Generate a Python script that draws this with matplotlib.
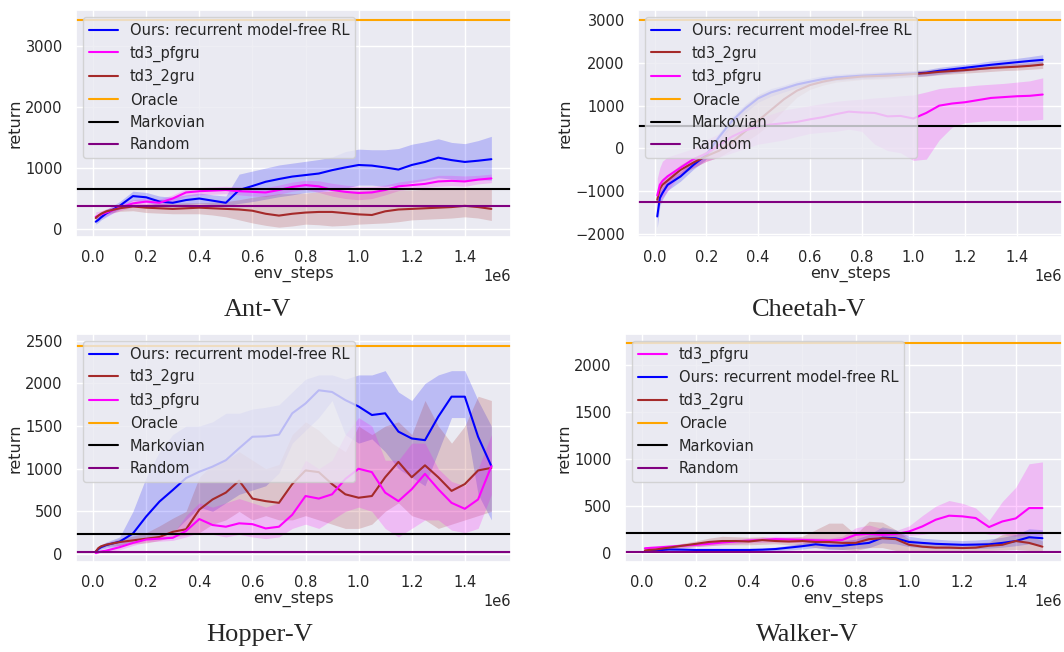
"""Learning curves on the four velocity-only locomotion tasks (2x2 grid)."""

import matplotlib

matplotlib.use("Agg")

import matplotlib.pyplot as plt
import numpy as np
import seaborn as sns
from matplotlib.ticker import MultipleLocator

# shared x grid, in millions of env steps
STEPS = [0.01, 0.02, 0.03, 0.05, 0.10, 0.15, 0.20, 0.25, 0.30, 0.35, 0.40,
         0.45, 0.50, 0.55, 0.60, 0.65, 0.70, 0.75, 0.80, 0.85, 0.90, 0.95,
         1.00, 1.05, 1.10, 1.15, 1.20, 1.25, 1.30, 1.35, 1.40, 1.45, 1.50]

# ---- Ant-V ----
ant_ours = [120, 150, 190, 257, 380, 540, 520, 450, 430, 475, 500, 465, 430, 640, 705, 775, 820,
            860, 885, 910, 965, 1010, 1050, 1040, 1010, 975, 1050, 1100, 1170, 1130, 1100, 1120, 1145]
ant_ours_lo = [80, 110, 150, 200, 330, 470, 440, 380, 370, 400, 420, 400, 380, 420, 450, 490, 530,
               560, 600, 610, 640, 670, 720, 720, 700, 720, 760, 800, 840, 820, 800, 810, 800]
ant_ours_hi = [170, 200, 240, 320, 450, 620, 600, 540, 520, 560, 590, 560, 540, 900, 950, 1000, 1050,
               1080, 1110, 1140, 1180, 1270, 1310, 1300, 1300, 1320, 1390, 1430, 1480, 1420, 1400, 1450, 1520]
ant_pfgru = [200, 220, 240, 270, 350, 420, 450, 430, 500, 600, 620, 630, 640, 620, 610, 600, 640,
             690, 720, 700, 640, 610, 590, 600, 640, 700, 720, 740, 780, 790, 780, 810, 830]
ant_pfgru_lo = [140, 160, 180, 220, 300, 360, 400, 380, 440, 540, 560, 570, 580, 560, 540, 530, 570,
                620, 650, 600, 540, 500, 480, 500, 560, 630, 660, 680, 700, 710, 700, 740, 760]
ant_pfgru_hi = [280, 290, 300, 330, 410, 480, 510, 490, 560, 660, 680, 690, 700, 690, 690, 680, 720,
                770, 800, 790, 750, 720, 700, 700, 720, 770, 800, 830, 880, 880, 870, 880, 900]
ant_2gru = [180, 220, 250, 290, 340, 370, 350, 340, 330, 340, 350, 340, 330, 320, 300, 250, 220,
            250, 270, 280, 280, 260, 240, 230, 290, 320, 330, 340, 350, 360, 380, 360, 330]
ant_2gru_lo = [150, 180, 210, 250, 290, 300, 270, 260, 250, 250, 250, 230, 200, 150, 100, 60, 30,
               50, 80, 70, 50, 60, 80, 90, 100, 120, 150, 160, 170, 180, 200, 180, 140]
ant_2gru_hi = [210, 250, 290, 330, 380, 410, 410, 420, 420, 430, 430, 440, 450, 480, 520, 550, 580,
               580, 590, 610, 620, 620, 630, 640, 640, 640, 640, 650, 650, 650, 650, 650, 650]
ant_refs = [3426, 650, 377]  # Oracle, Markovian, Random

# ---- Cheetah-V ----
cheetah_ours = [-1590, -1160, -1045, -850, -655, -385, -150, 275, 650, 935, 1170, 1310, 1400, 1495,
                1560, 1620, 1660, 1680, 1700, 1715, 1730, 1740, 1750, 1770, 1815, 1850, 1885, 1920,
                1955, 1985, 2015, 2045, 2070]
cheetah_ours_lo = [-1850, -1340, -1195, -980, -765, -485, -250, 175, 550, 835, 1080, 1220, 1320, 1415,
                   1480, 1540, 1590, 1610, 1630, 1645, 1660, 1670, 1680, 1700, 1735, 1770, 1805, 1840,
                   1865, 1895, 1925, 1945, 1970]
cheetah_ours_hi = [-1300, -980, -900, -720, -545, -285, -50, 375, 750, 1035, 1260, 1400, 1480, 1575,
                   1640, 1700, 1730, 1750, 1770, 1785, 1800, 1810, 1820, 1840, 1895, 1930, 1965, 2000,
                   2045, 2075, 2105, 2145, 2190]
cheetah_2gru = [-1200, -950, -850, -750, -500, -330, -180, -50, 150, 400, 650, 900, 1150, 1350, 1480,
                1560, 1620, 1650, 1680, 1690, 1700, 1720, 1740, 1760, 1790, 1810, 1830, 1855, 1880,
                1895, 1910, 1930, 1960]
cheetah_2gru_lo = [-1400, -1100, -1000, -880, -620, -450, -300, -200, -20, 150, 350, 600, 900, 1200,
                   1380, 1480, 1550, 1580, 1610, 1620, 1630, 1650, 1670, 1690, 1720, 1740, 1760, 1780,
                   1800, 1820, 1830, 1850, 1870]
cheetah_2gru_hi = [-1000, -800, -700, -620, -380, -210, -60, 150, 700, 1000, 1250, 1350, 1450, 1530,
                   1580, 1640, 1690, 1720, 1750, 1760, 1770, 1790, 1810, 1830, 1860, 1880, 1900, 1930,
                   1960, 1970, 1990, 2010, 2040]
cheetah_pfgru = [-1100, -850, -760, -650, -450, -250, -120, 80, 280, 420, 510, 560, 590, 620, 680,
                 730, 800, 860, 840, 830, 750, 760, 700, 830, 1000, 1050, 1080, 1130, 1180, 1200,
                 1220, 1230, 1260]
cheetah_pfgru_lo = [-1500, -1250, -1150, -1000, -600, -450, -300, -200, -100, 0, 100, 150, 200, 280,
                    350, 380, 400, 450, 400, 100, -50, -100, -280, -250, 200, 500, 600, 630, 650, 650,
                    650, 660, 680]
cheetah_pfgru_hi = [-700, -450, -300, -200, -100, 0, 200, 350, 500, 600, 700, 800, 900, 950, 1000,
                    1050, 1100, 1130, 1150, 1180, 1200, 1230, 1250, 1320, 1400, 1430, 1450, 1480,
                    1500, 1520, 1550, 1580, 1650]
cheetah_refs = [3000, 524, -1250]

# ---- Hopper-V ----
hopper_ours = [27, 60, 80, 105, 145, 240, 440, 615, 750, 890, 965, 1025, 1100, 1240, 1375, 1380,
               1400, 1650, 1765, 1920, 1900, 1805, 1730, 1630, 1650, 1435, 1355, 1335, 1610, 1845,
               1845, 1375, 1030]
hopper_ours_lo = [15, 40, 55, 70, 100, 150, 200, 220, 250, 400, 550, 500, 600, 700, 750, 800, 950,
                  1300, 1450, 1600, 1800, 1400, 1300, 1350, 1200, 1000, 900, 800, 1200, 1600, 1600,
                  700, 400]
hopper_ours_hi = [40, 90, 110, 140, 200, 500, 900, 1200, 1400, 1500, 1500, 1550, 1650, 1650, 1700,
                  1720, 1750, 1900, 2050, 2100, 2100, 2050, 2100, 2100, 2150, 1900, 1800, 2000, 2100,
                  2150, 2150, 1800, 1500]
hopper_2gru = [30, 70, 90, 110, 140, 160, 180, 200, 260, 290, 520, 640, 720, 860, 650, 620, 600,
               820, 980, 960, 820, 700, 660, 680, 900, 1080, 900, 1040, 900, 740, 820, 980, 1010]
hopper_2gru_lo = [20, 50, 70, 90, 100, 120, 130, 160, 200, 220, 250, 350, 400, 500, 400, 450, 400,
                  400, 450, 400, 350, 300, 300, 350, 500, 600, 450, 400, 300, 350, 400, 450, 500]
hopper_2gru_hi = [40, 90, 110, 130, 180, 210, 250, 330, 420, 500, 900, 1050, 1100, 1200, 1100, 1000,
                  1050, 1400, 1550, 1450, 1300, 1200, 1500, 1400, 1500, 1550, 1400, 1800, 1500, 1300,
                  1500, 1850, 1800]
hopper_pfgru = [10, 20, 30, 40, 80, 130, 170, 180, 190, 270, 410, 340, 320, 360, 350, 300, 320, 460,
                680, 650, 700, 880, 1000, 960, 720, 620, 760, 940, 760, 600, 530, 640, 1030]
hopper_pfgru_lo = [0, 10, 20, 30, 50, 100, 140, 150, 160, 200, 250, 230, 200, 230, 200, 180, 200,
                   300, 350, 300, 400, 500, 550, 500, 300, 200, 300, 400, 400, 280, 250, 300, 700]
hopper_pfgru_hi = [20, 30, 40, 60, 120, 160, 200, 210, 230, 450, 600, 550, 600, 650, 600, 550, 600,
                   800, 1100, 1000, 1100, 1400, 1600, 1500, 1100, 1100, 1300, 1300, 1000, 850, 800,
                   1000, 1400]
hopper_refs = [2445, 235, 27]

# ---- Walker-V ----
walker_pfgru = [53, 55, 57, 60, 70, 80, 89, 100, 114, 125, 135, 142, 150, 146, 142, 138, 135, 142,
                196, 206, 196, 203, 231, 285, 356, 399, 392, 374, 278, 338, 370, 480, 480]
walker_pfgru_lo = [35, 38, 40, 45, 55, 62, 70, 80, 90, 100, 110, 115, 120, 115, 110, 110, 110, 110,
                   120, 140, 150, 160, 190, 200, 220, 220, 220, 230, 200, 200, 180, 200, 180]
walker_pfgru_hi = [70, 72, 75, 80, 90, 100, 110, 125, 140, 150, 160, 170, 180, 175, 170, 165, 160,
                   180, 270, 300, 260, 240, 290, 400, 500, 560, 530, 480, 350, 550, 700, 950, 970]
walker_ours = [20, 25, 28, 30, 40, 38, 35, 35, 35, 35, 35, 38, 45, 60, 75, 95, 80, 80, 95, 110, 165,
               160, 120, 110, 100, 95, 90, 92, 95, 110, 130, 170, 160]
walker_ours_lo = [10, 15, 18, 20, 25, 22, 20, 20, 20, 20, 20, 22, 28, 35, 45, 60, 40, 40, 50, 60, 110,
                  100, 70, 60, 55, 50, 50, 50, 55, 65, 80, 100, 90]
walker_ours_hi = [30, 35, 40, 45, 55, 55, 50, 50, 50, 50, 52, 55, 65, 85, 110, 140, 130, 130, 150, 200,
                  280, 250, 180, 160, 150, 140, 135, 140, 150, 170, 200, 260, 250]
walker_2gru = [30, 33, 36, 40, 60, 80, 100, 120, 130, 130, 125, 140, 130, 125, 130, 120, 120, 110,
               110, 150, 160, 150, 90, 70, 60, 60, 55, 60, 80, 90, 130, 110, 70]
walker_2gru_lo = [20, 22, 25, 28, 40, 55, 70, 80, 90, 90, 90, 95, 100, 90, 80, 60, 50, 40, 30, 60, 60,
                  30, 20, 20, 20, 20, 20, 25, 30, 35, 40, 30, 20]
walker_2gru_hi = [40, 44, 48, 52, 80, 105, 130, 160, 180, 175, 170, 175, 160, 170, 180, 250, 320, 320,
                  200, 340, 330, 250, 150, 120, 110, 100, 100, 110, 120, 200, 230, 200, 130]
walker_refs = [2228, 214, 18]

OURS = "Ours: recurrent model-free RL"
COLORS = {OURS: "blue", "td3_pfgru": "magenta", "td3_2gru": "brown"}
REF_NAMES = ["Oracle", "Markovian", "Random"]
REF_COLORS = ["orange", "black", "purple"]

# title, axes rect, ylim, y tick step, caption (x, y), reference levels, curves
PANELS = [
    ("Ant-V", [0.0714, 0.6365, 0.409, 0.348], (-131, 3590), 1000, (0.242, 0.5245), ant_refs, [
        (OURS, ant_ours, ant_ours_lo, ant_ours_hi),
        ("td3_pfgru", ant_pfgru, ant_pfgru_lo, ant_pfgru_hi),
        ("td3_2gru", ant_2gru, ant_2gru_lo, ant_2gru_hi)]),
    ("Cheetah-V", [0.5996, 0.6365, 0.3985, 0.348], (-2070, 3233), 1000, (0.760, 0.5245), cheetah_refs, [
        (OURS, cheetah_ours, cheetah_ours_lo, cheetah_ours_hi),
        ("td3_2gru", cheetah_2gru, cheetah_2gru_lo, cheetah_2gru_hi),
        ("td3_pfgru", cheetah_pfgru, cheetah_pfgru_lo, cheetah_pfgru_hi)]),
    ("Hopper-V", [0.0714, 0.138, 0.409, 0.350], (-94, 2582), 500, (0.244, 0.026), hopper_refs, [
        (OURS, hopper_ours, hopper_ours_lo, hopper_ours_hi),
        ("td3_2gru", hopper_2gru, hopper_2gru_lo, hopper_2gru_hi),
        ("td3_pfgru", hopper_pfgru, hopper_pfgru_lo, hopper_pfgru_hi)]),
    ("Walker-V", [0.5874, 0.138, 0.411, 0.350], (-93, 2330), 500, (0.759, 0.026), walker_refs, [
        ("td3_pfgru", walker_pfgru, walker_pfgru_lo, walker_pfgru_hi),
        (OURS, walker_ours, walker_ours_lo, walker_ours_hi),
        ("td3_2gru", walker_2gru, walker_2gru_lo, walker_2gru_hi)]),
]


def main() -> None:
    sns.set_theme(style="darkgrid")
    plt.rcParams.update({
        "xtick.labelsize": 10.5,
        "ytick.labelsize": 10.5,
        "axes.labelsize": 11.5,
        "legend.fontsize": 10.5,
    })

    x = np.array(STEPS) * 1e6
    fig = plt.figure(figsize=(10.64, 6.52), dpi=100)
    for title, rect, ylim, ystep, cap_xy, refs, series in PANELS:
        ax = fig.add_axes(rect)
        for name, mean, lo, hi in series:
            ax.plot(x, mean, color=COLORS[name], lw=1.5, label=name)
            ax.fill_between(x, lo, hi, color=COLORS[name], alpha=0.2, lw=0)
        for value, name, color in zip(refs, REF_NAMES, REF_COLORS):
            ax.axhline(value, color=color, lw=1.5, label=name)
        ax.set_ylim(*ylim)
        ax.yaxis.set_major_locator(MultipleLocator(ystep))
        ax.set_xlabel("env_steps", labelpad=1)
        ax.set_ylabel("return", labelpad=2)
        ax.legend(loc="upper left")
        # panel caption under the x axis label
        fig.text(*cap_xy, title, ha="center", va="center",
                 family="Liberation Serif", fontsize=19)
    fig.savefig("out.png", dpi=100)


if __name__ == "__main__":
    main()
